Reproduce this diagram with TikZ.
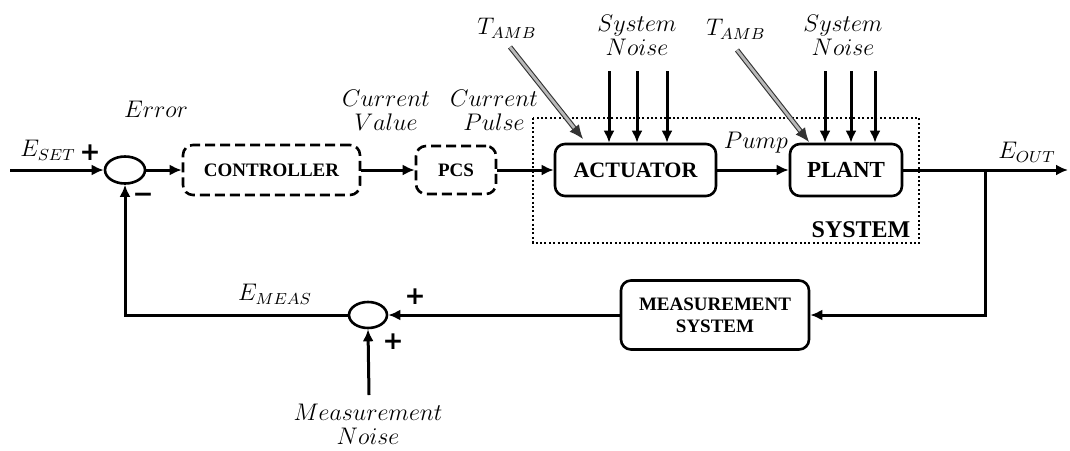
\documentclass[tikz,border=0pt]{standalone}
\usepackage{fontspec}
\setmainfont{Liberation Serif}
\newfontfamily\symf{DejaVu Sans}
\usetikzlibrary{arrows.meta,shapes.geometric}
\begin{document}
\begin{tikzpicture}[x=0.5pt,y=-0.5pt,
  blk/.style={draw, rounded corners=5pt, line width=1.3pt, align=center, inner sep=0pt},
  dblk/.style={blk, dash pattern=on 5pt off 2.5pt},
  sumc/.style={draw, ellipse, line width=1.3pt, minimum width=20pt, minimum height=13.5pt, inner sep=0pt},
  conn/.style={line width=1.5pt, -{Latex[length=6pt,width=5.5pt]}},
  lbl/.style={font=\fontsize{11.5}{12}\selectfont, align=center, inner sep=0pt},
  sign/.style={font=\symf\bfseries\fontsize{12.5}{12.5}\selectfont, inner sep=0pt},
  tamb/.style={draw=black!80, double=gray!55, double distance=1.4pt, line width=0.55pt, -{Latex[length=7pt,width=6pt]}},
  noisearr/.style={line width=1.5pt, -{Latex[length=6pt,width=5.5pt]}}
]
\useasboundingbox (0,0) rectangle (1070,450);
% system dotted box
\draw[line width=0.6pt, dash pattern=on 1pt off 1.2pt] (533,118) rectangle (919,243);
\node[font=\bfseries\fontsize{12}{12}\selectfont, inner sep=0pt] (sysl) at (861,230) {SYSTEM};

% blocks
\node[sumc] (s1) at (125,170) {};
\node[dblk, minimum width=88.5pt, minimum height=25pt, font=\bfseries\fontsize{9.5}{11}\selectfont] (ctl) at (271.5,170) {CONTROLLER};
\node[dblk, minimum width=40pt, minimum height=24pt, font=\bfseries\fontsize{9.5}{11}\selectfont] (pcs) at (456,170) {PCS};
\node[blk, minimum width=80.5pt, minimum height=26pt, font=\bfseries\fontsize{11}{12}\selectfont] (act) at (635.5,170) {ACTUATOR};
\node[blk, minimum width=56pt, minimum height=26pt, font=\bfseries\fontsize{11.5}{12}\selectfont] (plt) at (846,170) {PLANT};
\node[blk, minimum width=94pt, minimum height=34.5pt, font=\bfseries\fontsize{9.5}{11}\selectfont] (ms) at (715,315) {MEASUREMENT\\SYSTEM};
\node[sumc, minimum width=19pt, minimum height=13pt] (s2) at (368,315) {};

% coordinates
\coordinate (in) at (10,170);
\coordinate (out) at (1068,170);
\coordinate (br) at (985,170);
\coordinate (mn) at (369,395);

% main path
\draw[conn] (in) -- (s1.west);
\draw[conn] (s1.east) -- (ctl.west);
\draw[conn] (ctl.east) -- (pcs.west);
\draw[conn] (pcs.east) -- (act.west);
\draw[conn] (act.east) -- (plt.west);
\draw[conn] (plt.east) -- (out);
\draw[conn] (br) |- (ms.east);
\draw[conn] (ms.west) -- (s2.east);
\draw[conn] (s2.west) -| (s1.south);
\draw[conn] (mn) -- (s2.south);

% disturbances
\coordinate (ta1) at (510,47);
\coordinate (ta2) at (737,50);
\draw[tamb] (ta1) -- (583,139);
\draw[tamb] (ta2) -- (809,142);
\foreach \x/\n in {609/a,637/b,667/c}{
  \coordinate (n1\n) at (\x,71);
  \draw[noisearr] (n1\n) -- (n1\n |- act.north);
}
\foreach \x/\n in {825/a,851/b,875/c}{
  \coordinate (n2\n) at (\x,71);
  \draw[noisearr] (n2\n) -- (n2\n |- plt.north);
}

% labels
\node[lbl] (eset) at (48,150) {$E_{SET}$};
\node[sign] (p1) at (90,153) {+};
\node[sign] (m1) at (143,198) {−};
\node[lbl] (err) at (156,109) {$Error$};
\node[lbl] (cv) at (386,110) {$Current$\\$Value$};
\node[lbl] (cp) at (494,110) {$Current$\\$Pulse$};
\node[lbl] (tl1) at (507,28) {$T_{AMB}$};
\node[lbl] (tl2) at (736,29) {$T_{AMB}$};
\node[lbl] (sn1) at (637,35) {$System$\\$Noise$};
\node[lbl] (sn2) at (843,35) {$System$\\$Noise$};
\node[lbl] (pump) at (756,143) {$Pump$};
\node[lbl] (eout) at (1027,152) {$E_{OUT}$};
\node[lbl] (emeas) at (275,294) {$E_{MEAS}$};
\node[sign] (p2) at (415,297) {+};
\node[sign] (p3) at (393,342) {+};
\node[lbl] (mnl) at (368,424) {$Measurement$\\$Noise$};
\end{tikzpicture}
\end{document}
